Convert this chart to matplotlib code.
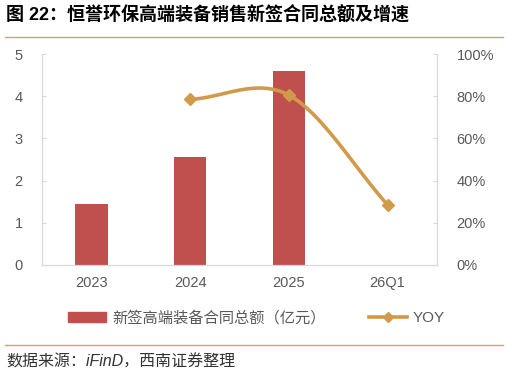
import numpy as np
import matplotlib
matplotlib.use("Agg")
import matplotlib.pyplot as plt
from matplotlib.lines import Line2D
from matplotlib.patches import Patch

plt.rcParams['font.family'] = ['Liberation Sans', 'Noto Sans CJK SC', 'DejaVu Sans']

# data
years = ["2023", "2024", "2025", "26Q1"]
amount = [1.45, 2.55, 4.6]            # 亿元
yoy_idx = [1, 2, 3]
yoy = [78.5, 80.5, 28.5]              # %

bar_color = "#C0504D"
line_color = "#D19A4B"
gray = "#595959"
spine_gray = "#D9D9D9"


def catmull_rom(xs, ys, n=40):
    # Excel-like smoothed line through the points
    xs = np.asarray(xs, float)
    ys = np.asarray(ys, float)
    px = np.concatenate([[2 * xs[0] - xs[1]], xs, [2 * xs[-1] - xs[-2]]])
    py = np.concatenate([[2 * ys[0] - ys[1]], ys, [2 * ys[-1] - ys[-2]]])
    outx, outy = [], []
    for i in range(1, len(px) - 2):
        t = np.linspace(0, 1, n)
        for p, out in ((px, outx), (py, outy)):
            p0, p1, p2, p3 = p[i - 1], p[i], p[i + 1], p[i + 2]
            out.extend(0.5 * ((2 * p1) + (-p0 + p2) * t
                              + (2 * p0 - 5 * p1 + 4 * p2 - p3) * t ** 2
                              + (-p0 + 3 * p1 - 3 * p2 + p3) * t ** 3))
    return np.array(outx), np.array(outy)


fig = plt.figure(figsize=(5.08, 3.76), dpi=100)
ax = fig.add_axes([42 / 508, 1 - 265 / 376, 395 / 508, 211 / 376])
ax2 = ax.twinx()

x = np.arange(len(years))
ax.bar(x[:len(amount)], amount, width=0.33, color=bar_color, zorder=2)
ax.set_xlim(-0.5, 3.5)
ax.set_ylim(0, 5)
ax.set_yticks(range(6))
ax.set_xticks(x)
ax.set_xticklabels(years)

sx, sy = catmull_rom(yoy_idx, yoy)
ax2.plot(sx, sy, color=line_color, lw=2.6, solid_capstyle='round', zorder=3)
ax2.plot(yoy_idx, yoy, ls='none', marker='D', ms=6, color=line_color, zorder=4)
ax2.set_ylim(0, 100)
ax2.set_yticks(range(0, 101, 20))
ax2.set_yticklabels([f"{v}%" for v in range(0, 101, 20)])

for a in (ax, ax2):
    a.spines['top'].set_visible(False)
    for s in ('left', 'right', 'bottom'):
        a.spines[s].set_color(spine_gray)
    a.tick_params(colors=gray, labelsize=10.5, direction='in', length=3)
    a.tick_params(axis='y', color=spine_gray)
ax.tick_params(axis='x', length=0, pad=8)
ax.tick_params(axis='y', pad=14)
ax2.tick_params(axis='y', pad=14)

handles = [Patch(color=bar_color),
           Line2D([], [], color=line_color, lw=2.6, marker='D', ms=5)]
labels = ["新签高端装备合同总额（亿元）", "YOY"]
fig.legend(handles, labels, loc='center', bbox_to_anchor=(0.505, 1 - 318 / 376),
           ncol=2, frameon=False, labelcolor=gray,
           handlelength=2.5, handletextpad=0.4, columnspacing=2.8,
           prop={'family': ['Liberation Sans', 'Noto Sans CJK SC'], 'size': 11,
                 'weight': 'light'})

fig.text(0.012, 1 - 16 / 376, "图 22：恒誉环保高端装备销售新签合同总额及增速",
         fontsize=13, fontweight='bold', va='center', color='black')
fig.add_artist(Line2D([0.01, 0.99], [1 - 37 / 376] * 2, color="#D9A35C", lw=1))
fig.add_artist(Line2D([0.01, 0.99], [1 - 345 / 376] * 2, color="#D9A35C", lw=1))
fig.text(0.012, 1 - 362 / 376, "数据来源：iFinD，西南证券整理",
         fontsize=11.5, style='italic', va='center', color='#333333')

fig.savefig("out.png", dpi=100)
